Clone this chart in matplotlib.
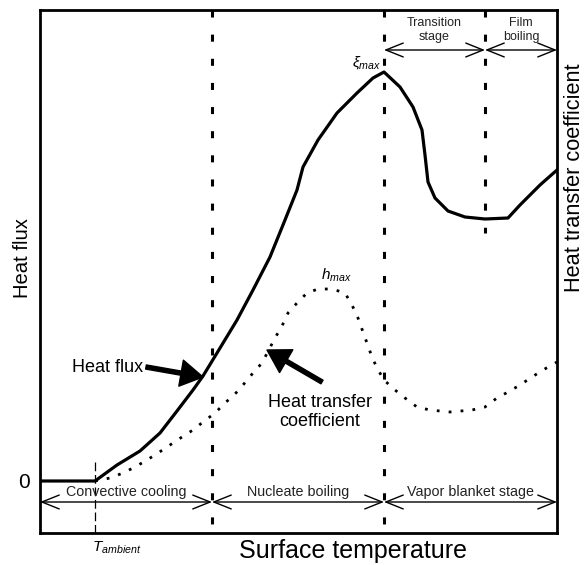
import matplotlib
matplotlib.use("Agg")
import matplotlib.pyplot as plt
from matplotlib.patches import FancyArrowPatch

plt.rcParams['font.family'] = ['Liberation Sans', 'DejaVu Sans']
plt.rcParams['mathtext.fontset'] = 'custom'
plt.rcParams['mathtext.it'] = 'Liberation Sans:italic'
plt.rcParams['mathtext.rm'] = 'Liberation Sans'

# heat flux curve (surface temperature, flux) in arbitrary units
flux_t = [0, 55, 77, 100, 120, 137, 153, 163, 177, 197, 213, 230, 245, 257, 263,
          278, 297, 317, 333, 344, 360, 373, 382, 385, 388, 395, 408, 425, 445,
          468, 480, 500, 517]
flux_q = [52, 52, 68, 82, 100, 122, 143, 157, 180, 213, 243, 276, 313, 343, 366,
          393, 420, 440, 455, 461, 446, 426, 403, 378, 351, 335, 322, 316, 314,
          315, 328, 348, 363]

# heat transfer coefficient curve
htc_t = [55, 70, 83, 95, 107, 118, 130, 142, 153, 163, 175, 185, 195, 203, 213,
         222, 235, 242, 248, 257, 267, 278, 292, 305, 312, 318, 323, 332, 337,
         344, 355, 365, 377, 390, 410, 432, 445, 457, 468, 480, 492, 503, 517]
htc_h = [52, 55, 60, 66, 73, 80, 88, 96, 103, 111, 120, 130, 139, 148, 160,
         170, 195, 207, 220, 230, 240, 244, 244, 240, 228, 215, 201, 176, 165,
         153, 143, 135, 126, 123, 121, 123, 126, 135, 141, 148, 156, 163, 171]

t_ambient = 55
stage_bounds = [172, 344, 445]
bottom_stages = ['Convective cooling', 'Nucleate boiling', 'Vapor blanket stage']
top_stages = ['Transition\nstage', 'Film\nboiling']

fig = plt.figure(figsize=(5.86, 5.65), dpi=100)
ax = fig.add_axes([40/586, 32/565, 517/586, 523/565])
ax.set_xlim(0, 517)
ax.set_ylim(0, 523)
for s in ax.spines.values():
    s.set_linewidth(2)
ax.set_xticks([])
ax.set_yticks([flux_q[0]], ['0'], fontsize=15)
ax.tick_params(axis='y', length=0, pad=7)

# stage boundaries
dash = (0, (2.3, 5.6))
ax.plot([stage_bounds[0]] * 2, [523, 0], color='k', lw=2.2, ls=dash)
ax.plot([stage_bounds[1]] * 2, [523, 0], color='k', lw=2.2, ls=dash)
ax.plot([stage_bounds[2]] * 2, [523, 300], color='k', lw=2.2, ls=dash)
ax.plot([t_ambient] * 2, [71, 0], color='k', lw=0.9, ls=(0, (7, 3)))

ax.plot(flux_t, flux_q, color='k', lw=2.3, solid_joinstyle='round')
ax.plot(htc_t, htc_h, color='k', lw=2, ls=(0, (1, 3.3)))


def span_arrow(x0, x1, y):
    ax.add_patch(FancyArrowPatch((x0, y), (x1, y),
                 arrowstyle='<->,head_length=1.25,head_width=0.5',
                 mutation_scale=10, lw=1, color='k',
                 shrinkA=0, shrinkB=0, clip_on=False))


edges = [0] + stage_bounds[:2] + [517]
for i, name in enumerate(bottom_stages):
    span_arrow(edges[i], edges[i + 1], 31)
    ax.text((edges[i] + edges[i + 1]) / 2, 41, name, ha='center', va='center',
            fontsize=10.3, color='#222222')

top_edges = [stage_bounds[1], stage_bounds[2], 517]
for i, name in enumerate(top_stages):
    span_arrow(top_edges[i], top_edges[i + 1], 483)
    ax.text((top_edges[i] + top_edges[i + 1]) / 2, 503, name, ha='center',
            va='center', fontsize=9, linespacing=1.15, color='#222222')

# curve labels with arrows
ax.text(103, 165, 'Heat flux', ha='right', va='center', fontsize=13)
ax.add_patch(FancyArrowPatch((106, 166), (163, 156),
             arrowstyle='simple,head_length=1.6,head_width=1.9,tail_width=0.3',
             mutation_scale=10, color='k', shrinkA=0, shrinkB=0))
ax.text(280, 121, 'Heat transfer\ncoefficient', ha='center', va='center',
        fontsize=13, linespacing=1.1)
ax.add_patch(FancyArrowPatch((282, 151), (227, 183),
             arrowstyle='simple,head_length=1.6,head_width=1.9,tail_width=0.3',
             mutation_scale=10, color='k', shrinkA=0, shrinkB=0))

ax.text(341, 470, r'$\xi_{max}$', ha='right', va='center', fontsize=11)
ax.text(296, 258, r'$h_{max}$', ha='center', va='center', fontsize=11)
ax.text(52, -15, r'$T_{ambient}$', ha='left', va='center', fontsize=11,
        clip_on=False)

ax.text(313, -18, 'Surface temperature', ha='center', va='center', fontsize=18,
        clip_on=False)
ax.text(-17, 275, 'Heat flux', ha='center', va='center', rotation=90,
        fontsize=14.6, clip_on=False)
ax.text(535, 355, 'Heat transfer coefficient', ha='center', va='center',
        rotation=90, fontsize=15.7, clip_on=False)

fig.savefig('out.png', dpi=100)
